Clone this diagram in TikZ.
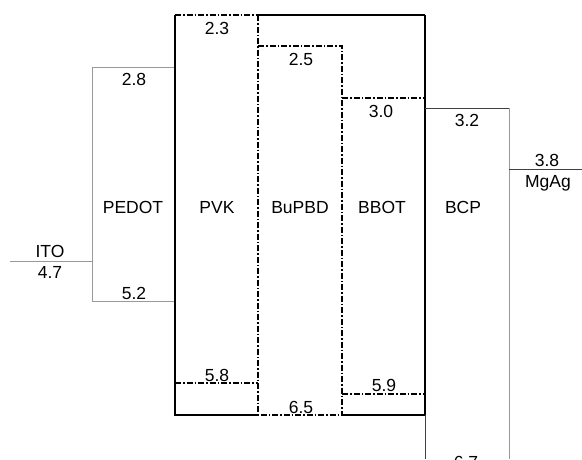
\documentclass[tikz,border=0pt]{standalone}
\usepackage{fontspec}
\setmainfont{Liberation Sans}
\begin{document}
\begin{tikzpicture}[x=1pt,y=-1pt,
  lbl/.style={anchor=base,inner sep=0pt,font=\fontsize{17.5}{19}\selectfont},
  solidk/.style={line width=1.2pt,black},
  dashk/.style={line width=1.1pt,black,dash pattern=on 6pt off 2pt on 1.5pt off 2pt},
  grayl/.style={line width=1pt,gray!80},
  darkl/.style={line width=0.9pt,black!75}]
\useasboundingbox (0,0) rectangle (582,459);
% ITO
\draw[grayl] (10,261) -- (92,261);
% PEDOT
\draw[grayl] (175,67) -- (92,67) -- (92,301) -- (175,301);
% PVK / outer box
\draw[dashk] (175,15) -- (258,15);
\draw[solidk] (258,15) -- (425,15);
\draw[solidk] (175,15) -- (175,415) -- (258,415);
\draw[solidk] (342,415) -- (425,415);
\draw[solidk] (425,15) -- (425,415);
\draw[darkl] (425,415) -- (425,459);
\draw[dashk] (175,383) -- (258,383);
% BuPBD
\draw[dashk] (258,15) -- (258,415) -- (342,415);
\draw[dashk] (258,46) -- (342,46) -- (342,415);
% BBOT
\draw[dashk] (342,98) -- (425,98);
\draw[dashk] (342,394) -- (425,394);
% BCP
\draw[darkl] (425,108) -- (509,108);
\draw[grayl] (509,108) -- (509,459);
% MgAg
\draw[darkl] (509,169) -- (582,169);
% labels
\node[lbl] (ito) at (50,257) {ITO};
\node[lbl] (v47) at (50,278) {4.7};
\node[lbl] (v28) at (134,85) {2.8};
\node[lbl] (v52) at (134,299) {5.2};
\node[lbl] (v23) at (217,34) {2.3};
\node[lbl] (v58) at (217,381) {5.8};
\node[lbl] (v25) at (301,65) {2.5};
\node[lbl] (v65) at (301,413) {6.5};
\node[lbl] (v30) at (381,117) {3.0};
\node[lbl] (v59) at (384,391) {5.9};
\node[lbl] (v32) at (467,126) {3.2};
\node[lbl] (v67) at (466,468) {6.7};
\node[lbl] (v38) at (547,166) {3.8};
\node[lbl] (mgag) at (548,187) {MgAg};
\node[lbl] (pedot) at (133,213) {PEDOT};
\node[lbl] (pvk) at (217,213) {PVK};
\node[lbl] (bupbd) at (300,213) {BuPBD};
\node[lbl] (bbot) at (382,213) {BBOT};
\node[lbl] (bcp) at (463,213) {BCP};
\end{tikzpicture}
\end{document}
